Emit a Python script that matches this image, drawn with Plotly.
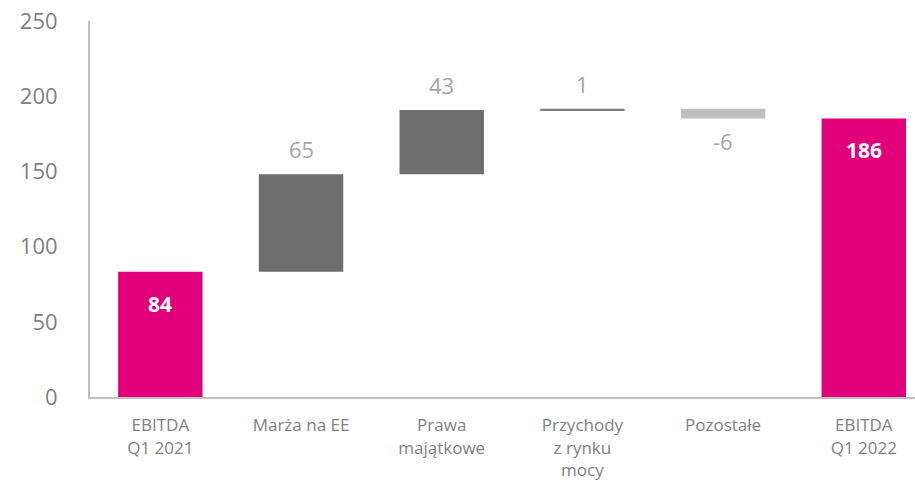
import plotly.graph_objects as go

categories = ["EBITDA<br>Q1 2021", "Marża na EE", "Prawa<br>majątkowe",
              "Przychody<br>z rynku<br>mocy", "Pozostałe", "EBITDA<br>Q1 2022"]
kinds = ["total", "delta", "delta", "delta", "delta", "total"]
values = [83.2, 64.9, 42.7, 0.9, -6.6, 185.2]
labels = ["84", "65", "43", "1", "-6", "186"]
colors = ["#E2007A", "#6E6E6E", "#6E6E6E", "#808080", "#BFBFBF", "#E2007A"]
y_ticks = [0, 50, 100, 150, 200, 250]

bases, heights, ends = [], [], []
running = 0.0
for k, v in zip(kinds, values):
    if k == "total":
        bases.append(0.0)
        heights.append(v)
        running = v
        ends.append(v)
    else:
        bases.append(running)
        heights.append(v)
        running += v
        ends.append(running)

fig = go.Figure()
fig.add_trace(go.Bar(
    x=categories, y=heights, base=bases,
    marker=dict(color=colors, line=dict(width=0)),
    width=0.6, hoverinfo="skip",
))

for i, (k, v, lab) in enumerate(zip(kinds, values, labels)):
    if k == "total":
        fig.add_annotation(x=categories[i], y=ends[i], text="<b>" + lab + "</b>",
                           showarrow=False, yanchor="middle", yshift=-32,
                           font=dict(family="Open Sans", size=21, color="#FFFFFF"))
    elif v >= 0:
        fig.add_annotation(x=categories[i], y=ends[i], text=lab,
                           showarrow=False, yanchor="middle", yshift=25,
                           font=dict(family="Open Sans", size=22, color="#A6A6A6"))
    else:
        fig.add_annotation(x=categories[i], y=ends[i], text=lab,
                           showarrow=False, yanchor="middle", yshift=-22,
                           font=dict(family="Open Sans", size=22, color="#A6A6A6"))

fig.update_layout(
    width=915, height=493,
    margin=dict(l=90, r=0, t=21, b=96),
    paper_bgcolor="white", plot_bgcolor="white",
    showlegend=False,
    bargap=0.4,
    xaxis=dict(
        type="category", range=[-0.5, 5.364],
        showline=True, linecolor="#BFBFBF", linewidth=2,
        showgrid=False, zeroline=False, ticks="",
        tickfont=dict(family="Open Sans", size=17, color="#7F7F7F"),
        ticklabelstandoff=12,
    ),
    yaxis=dict(
        range=[0, 250], tickvals=y_ticks,
        showline=True, linecolor="#BFBFBF", linewidth=2,
        showgrid=False, zeroline=False, ticks="",
        tickfont=dict(family="Open Sans", size=22, color="#7F7F7F"),
        ticklabelstandoff=26,
    ),
)

fig.write_html("out.html")
